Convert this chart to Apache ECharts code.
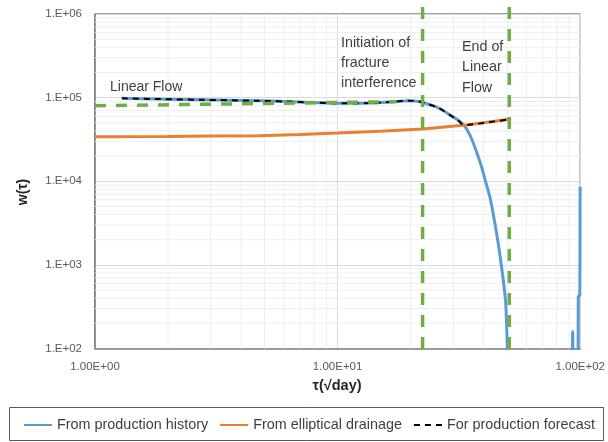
<!DOCTYPE html>
<html>
<head>
<meta charset="utf-8">
<script src="https://cdn.jsdelivr.net/npm/echarts@6/dist/echarts.min.js"></script>
<style>
  html, body { margin: 0; padding: 0; background: #ffffff; }
  #chart { width: 608px; height: 442px; }
</style>
</head>
<body>
<div id="chart"></div>
<script>
// w(τ) curves against τ (√day), log–log

// From production history
const historyTau = [1.29, 1.85, 2.7, 4.76, 6.95, 10, 13.5, 17, 19.7, 21.6, 23.8, 26.1, 29.5, 31.3, 33.1, 34.4, 35.7, 37.4, 39.2, 40.9, 42.7, 45.2, 47.4, 49.2, 49.7, 50.1, 51, 92.1, 93.1, 94.2, 97.9, 98.2, 99.6, 99.9];
const historyW   = [98200, 96000, 94400, 91600, 88700, 85600, 86000, 89400, 91800, 90000, 82800, 75100, 60200, 54000, 47100, 39900, 32000, 22400, 14900, 9500, 5970, 2400, 950, 380, 200, 100, 40, 40, 160, 40, 40, 420, 430, 8600];

// From elliptical drainage
const ellipticalTau = [1, 2, 3, 4.7, 7, 10, 15, 22.4, 34.7, 51];
const ellipticalW   = [34000, 34400, 34700, 35000, 36300, 37800, 39600, 42100, 47400, 55000];

// For production forecast
const forecastTau = [1.29, 1.85, 2.7, 4.76, 6.95, 10, 13.5, 17, 19.7, 21.6, 23.8, 26.1, 29.5, 31.3, 33.1, 34.7, 40, 45, 51];
const forecastW   = [98200, 96000, 94400, 91600, 88700, 85600, 86000, 89400, 91800, 90000, 82800, 75100, 60200, 54000, 47100, 47400, 49800, 52200, 55000];

// Linear-flow trend
const linearFlowTau = [1, 17.5];
const linearFlowW   = [80000, 89500];

// Regime boundaries (τ) and the w span of the marker lines
const interferenceTau = 22.4;
const endLinearTau = 51;
const markerSpanW = [1.21e6, 81];

// Axis ranges and label text
const xMin = 1, xMax = 100;
const yMin = 100, yMax = 1e6;
const xTickLabels = { 0: '1.00E+00', 1: '1.00E+01', 2: '1.00E+02' };
const yTickLabels = { 2: '1.E+02', 3: '1.E+03', 4: '1.E+04', 5: '1.E+05', 6: '1.E+06' };
const legendNames = ['From production history', 'From elliptical drainage', 'For production forecast'];

const zip = (a, b) => a.map((v, i) => [v, b[i]]);

// minor gridlines at 2..9 of every decade, as one broken polyline
const minorGrid = [];
for (let d = xMin; d < xMax; d *= 10) {
  for (let k = 2; k <= 9; k++) minorGrid.push([d * k, yMin], [d * k, yMax], '-');
}
for (let d = yMin; d < yMax; d *= 10) {
  for (let k = 2; k <= 9; k++) minorGrid.push([xMin, d * k], [xMax, d * k], '-');
}

const FONT = '"Liberation Sans", Arial, sans-serif';
const TXT = '#404040';
const green = '#70AD47';

const chart = echarts.init(document.getElementById('chart'), null, { renderer: 'canvas' });

const option = {
  animation: false,
  textStyle: { fontFamily: FONT },
  grid: {
    left: 95, top: 14, right: 26, bottom: 93.5,
    show: true, borderColor: '#3f3f3f', borderWidth: 1, backgroundColor: 'transparent'
  },
  xAxis: {
    type: 'log', logBase: 10, min: xMin, max: xMax,
    axisLine: { show: true, lineStyle: { color: '#7f7f7f', width: 1.5 } },
    axisTick: { show: false },
    axisLabel: {
      color: '#595959', fontSize: 11.5, margin: 12, fontFamily: FONT,
      formatter: v => xTickLabels[Math.round(Math.log10(v))] || ''
    },
    splitLine: { show: true, lineStyle: { color: '#d9d9d9', width: 1 } }
  },
  yAxis: {
    type: 'log', logBase: 10, min: yMin, max: yMax,
    axisLine: { show: true, lineStyle: { color: '#7f7f7f', width: 1.5 } },
    axisTick: { show: false },
    axisLabel: {
      color: '#595959', fontSize: 11.5, margin: 13, fontFamily: FONT,
      formatter: v => yTickLabels[Math.round(Math.log10(v))] || ''
    },
    splitLine: { show: true, lineStyle: { color: '#d9d9d9', width: 1 } }
  },
  legend: {
    data: legendNames,
    left: 23, top: 418, padding: 0,
    itemWidth: 28, itemHeight: 14, itemGap: 11,
    itemStyle: { opacity: 0 },
    textStyle: { fontSize: 14.4, color: TXT, fontFamily: FONT },
    selectedMode: false
  },
  graphic: [
    { type: 'rect', z: 100, shape: { x: 9.5, y: 407.5, width: 594, height: 33 }, style: { fill: 'none', stroke: '#595959', lineWidth: 1 } },
    { type: 'text', z: 100, x: 23, y: 192, rotation: Math.PI / 2, style: { text: 'w(τ)', font: 'bold 14px ' + FONT, fill: '#262626', align: 'center', verticalAlign: 'middle' } },
    { type: 'text', z: 100, x: 337, y: 386, style: { text: 'τ(√day)', font: 'bold 14.5px ' + FONT, fill: '#262626', align: 'center', verticalAlign: 'middle' } },
    { type: 'text', z: 100, x: 110, y: 87, style: { text: 'Linear Flow', font: '14px ' + FONT, fill: TXT, verticalAlign: 'middle' } },
    { type: 'text', z: 100, x: 341, y: 63, style: { text: 'Initiation of\nfracture\ninterference', font: '14.3px ' + FONT, fill: TXT, lineHeight: 20, verticalAlign: 'middle' } },
    { type: 'text', z: 100, x: 462, y: 67.5, style: { text: 'End of\nLinear\nFlow', font: '14.3px ' + FONT, fill: TXT, lineHeight: 20.5, verticalAlign: 'middle' } }
  ],
  series: [
    {
      // minor gridlines
      type: 'line', data: minorGrid, silent: true, z: 1,
      symbol: 'none', showSymbol: false, connectNulls: false, clip: true,
      lineStyle: { color: '#eeeeee', width: 1 }
    },
    {
      name: legendNames[0], type: 'line', data: zip(historyTau, historyW),
      symbol: 'none', showSymbol: false, clip: true, z: 3, smooth: 0.3,
      lineStyle: { color: '#5B9BD5', width: 3 }, itemStyle: { color: '#5B9BD5' }
    },
    {
      name: legendNames[1], type: 'line', data: zip(ellipticalTau, ellipticalW),
      symbol: 'none', showSymbol: false, clip: true, z: 3,
      lineStyle: { color: '#ED7D31', width: 3 }, itemStyle: { color: '#ED7D31' }
    },
    {
      name: legendNames[2], type: 'line', data: zip(forecastTau, forecastW),
      symbol: 'none', showSymbol: false, clip: true, z: 4, smooth: 0.3,
      lineStyle: { color: '#000000', width: 2, type: [6, 5] }, itemStyle: { color: '#000000' }
    },
    {
      name: 'linear flow trend', type: 'line', data: zip(linearFlowTau, linearFlowW),
      symbol: 'none', showSymbol: false, clip: true, z: 5,
      lineStyle: { color: green, width: 3.5, type: [11, 10] }
    },
    {
      name: 'interference onset', type: 'line',
      data: markerSpanW.map(w => [interferenceTau, w]),
      symbol: 'none', showSymbol: false, clip: false, z: 5,
      lineStyle: { color: green, width: 3.5, type: [12, 10] }
    },
    {
      name: 'end of linear flow', type: 'line',
      data: markerSpanW.map(w => [endLinearTau, w]),
      symbol: 'none', showSymbol: false, clip: false, z: 5,
      lineStyle: { color: green, width: 3.5, type: [12, 10] }
    }
  ]
};

chart.setOption(option);
</script>
</body>
</html>
